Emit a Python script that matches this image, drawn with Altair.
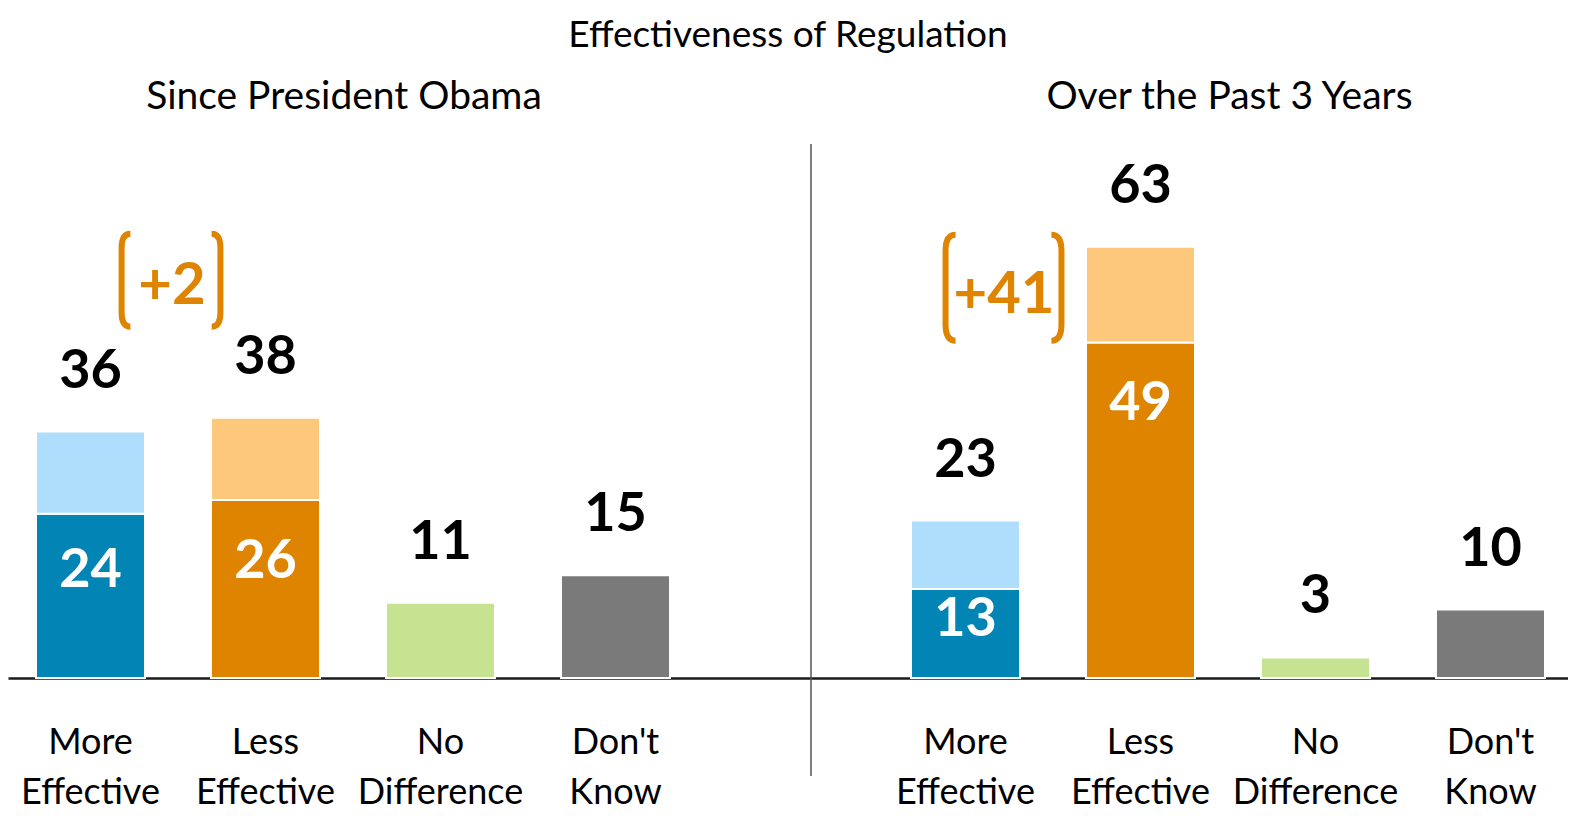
import altair as alt
import pandas as pd

# ---------------- data ----------------
categories = ["More Effective", "Less Effective", "No Difference", "Don't Know"]
panel_titles = ["Since President Obama", "Over the Past 3 Years"]
totals_obama = [36, 38, 11, 15]
strong_obama = [24, 26, None, None]
totals_3yr = [23, 63, 3, 10]
strong_3yr = [13, 49, None, None]
net_labels = ["+2", "+41"]

# ---------------- styles ----------------
dark_colors = ["#0285B5", "#DE8400", "#C6E391", "#7A7A7A"]
light_colors = ["#AEDEFC", "#FEC87C"]
ORANGE = "#DE8400"
FONT = "Lato"

LEFT_BRACKET = "M 0.1 -0.95 Q -0.08 -0.95 -0.08 -0.66 L -0.08 0.66 Q -0.08 0.95 0.1 0.95"
RIGHT_BRACKET = "M -0.1 -0.95 Q 0.08 -0.95 0.08 -0.66 L 0.08 0.66 Q 0.08 0.95 -0.1 0.95"

color_domain = [f"{c}|strong" for c in categories] + [f"{c}|soft" for c in categories[:2]]
color_range = dark_colors + light_colors


def segments(totals, strong):
    rows = []
    for cat, t, s in zip(categories, totals, strong):
        if s is None:
            rows.append(dict(category=cat, key=f"{cat}|strong", y0=0, y1=t))
        else:
            rows.append(dict(category=cat, key=f"{cat}|strong", y0=0, y1=s))
            rows.append(dict(category=cat, key=f"{cat}|soft", y0=s, y1=t))
    return pd.DataFrame(rows)


def panel(title, totals, strong, net, width, p_outer, align, title_dx,
          note_y, note_dx, text_dy, lb_dx, rb_dx, br_size, divider=False):
    xscale = alt.Scale(domain=categories, paddingInner=0.377,
                       paddingOuter=p_outer, align=align)
    yscale = alt.Scale(domain=[0, 78], nice=False, zero=True)
    xaxis = alt.Axis(title=None, labelExpr="split(datum.label, ' ')",
                     labelFont=FONT, labelFontSize=36, labelColor="black",
                     labelLineHeight=50, labelPadding=47, labelAngle=0,
                     labelLimit=400, ticks=False, tickSize=0,
                     domainColor="#1a1a1a", domainWidth=2.5, grid=False)
    x = alt.X("category:N", sort=categories, scale=xscale, axis=xaxis)

    seg = segments(totals, strong)
    tot_df = pd.DataFrame({"category": categories, "total": totals})
    inner_df = pd.DataFrame({"category": categories[:2],
                             "strong": [v for v in strong if v is not None]})
    note_df = pd.DataFrame({"category": [categories[0]], "note": [net]})

    bars = alt.Chart(seg).mark_bar(stroke="white", strokeWidth=2).encode(
        x=x,
        y=alt.Y("y0:Q", scale=yscale, axis=None),
        y2="y1:Q",
        color=alt.Color("key:N", scale=alt.Scale(domain=color_domain, range=color_range), legend=None),
    )
    tot_text = alt.Chart(tot_df).mark_text(
        font=FONT, fontSize=54, fontWeight="bold", color="black",
        baseline="middle", dy=-60,
    ).encode(x=x, y=alt.Y("total:Q", scale=yscale, axis=None), text="total:Q")
    inner_text = alt.Chart(inner_df).transform_calculate(
        pos="max(datum.strong - 9, datum.strong * 0.65)"
    ).mark_text(
        font=FONT, fontSize=54, fontWeight="bold", color="white", baseline="middle",
    ).encode(x=x, y=alt.Y("pos:Q", scale=yscale, axis=None), text="strong:Q")
    note_text = alt.Chart(note_df).mark_text(
        font=FONT, fontSize=58, fontWeight="bold", color=ORANGE,
        baseline="middle", dx=note_dx, dy=text_dy,
    ).encode(x=x, y=alt.datum(note_y, scale=yscale), text="note:N")
    lb = alt.Chart(note_df).mark_point(
        shape=LEFT_BRACKET, filled=False, stroke=ORANGE, strokeWidth=6,
        opacity=1, size=br_size, xOffset=lb_dx,
    ).encode(x=x, y=alt.datum(note_y, scale=yscale))
    rb = alt.Chart(note_df).mark_point(
        shape=RIGHT_BRACKET, filled=False, stroke=ORANGE, strokeWidth=6,
        opacity=1, size=br_size, xOffset=rb_dx,
    ).encode(x=x, y=alt.datum(note_y, scale=yscale))

    layers = [bars, tot_text, inner_text, note_text, lb, rb]
    if divider:
        layers.append(
            alt.Chart(note_df).mark_rule(color="black", strokeWidth=1).encode(
                x=alt.value(0), y=alt.value(0), y2=alt.value(632)
            )
        )
    return alt.layer(*layers).properties(
        width=width, height=534,
        title=alt.TitleParams(title, font=FONT, fontSize=39, fontWeight="normal",
                              color="black", anchor="middle", dx=title_dx, offset=27),
    )


left = panel(panel_titles[0], totals_obama, strong_obama, net_labels[0],
             width=802, p_outer=0.48, align=0.1667, title_dx=-65,
             note_y=58.1, note_dx=81.5, text_dy=7, lb_dx=35, rb_dx=126,
             br_size=9570)
right = panel(panel_titles[1], totals_3yr, strong_3yr, net_labels[1],
              width=757, p_outer=0.3514, align=0.813, title_dx=40,
              note_y=57.0, note_dx=38.5, text_dy=8, lb_dx=-15.5, rb_dx=91.5,
              br_size=12450, divider=True)

chart = alt.hconcat(left, right, spacing=0).properties(
    padding={"top": 8, "left": 0, "right": 0, "bottom": 0},
    title=alt.TitleParams("Effectiveness of Regulation", font=FONT, fontSize=37,
                          fontWeight="normal", color="black", anchor="middle", offset=23),
).configure_view(stroke=None)

chart.save("out.html", embed_options={"renderer": "svg", "actions": False})
